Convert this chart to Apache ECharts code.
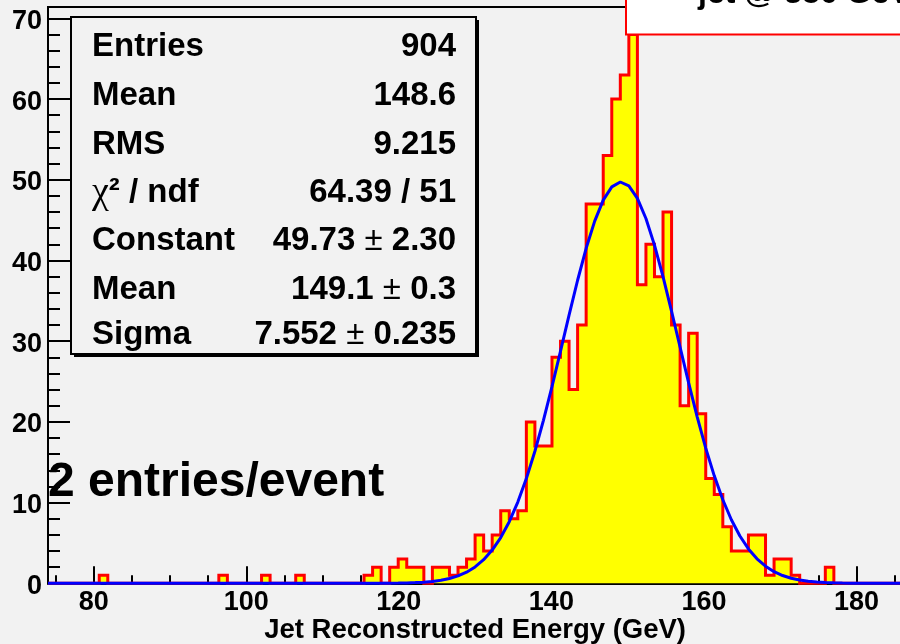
<!DOCTYPE html>
<html>
<head>
<meta charset="utf-8">
<script src="https://cdn.jsdelivr.net/npm/echarts@6/dist/echarts.min.js"></script>
<style>
  html, body { margin: 0; padding: 0; background: #f2f2f2; }
  #chart { width: 900px; height: 644px; }
</style>
</head>
<body>
<div id="chart"></div>
<script>
// Histogram binning: 100 bins from 74 to 186 GeV
const xMin = 74;
const xMax = 186;
const nBins = 100;

// Entries per bin (two entries per event)
const binCounts = [
  0, 0, 0, 0, 0, 0, 1, 0, 0, 0,
  0, 0, 0, 0, 0, 0, 0, 0, 0, 0,
  1, 0, 0, 0, 0, 1, 0, 0, 0, 1,
  0, 0, 0, 0, 0, 0, 0, 1, 2, 0,
  2, 3, 2, 2, 0, 2, 2, 1, 2, 3,
  6, 4, 6, 9, 8, 9, 20, 17, 17, 28,
  30, 24, 32, 47, 47, 53, 60, 63, 68, 37,
  42, 38, 46, 32, 22, 31, 21, 13, 11, 7,
  4, 4, 6, 6, 1, 3, 3, 1, 0, 0,
  0, 2, 0, 0, 0, 0, 0, 0, 0, 0
];

// Gaussian fit result
const fitConstant = 49.73;
const fitMean = 149.1;
const fitSigma = 7.552;
const fitPoints = 100;

// Axis ticks
const yMax = 71.4;
const xMajorTicks = [80, 100, 120, 140, 160, 180];
const xMinorTicks = [75, 85, 90, 95, 105, 110, 115, 125, 130, 135, 145, 150, 155, 165, 170, 175, 185];
const yMajorTicks = [0, 10, 20, 30, 40, 50, 60, 70];
const yMinorTicks = [2, 4, 6, 8, 12, 14, 16, 18, 22, 24, 26, 28, 32, 34, 36, 38, 42, 44, 46, 48, 52, 54, 56, 58, 62, 64, 66, 68];

// Statistics box
const statLabels = ['Entries', 'Mean', 'RMS', 'χ² / ndf', 'Constant', 'Mean', 'Sigma'];
const statValues = ['904', '148.6', '9.215', '64.39 / 51', '49.73 ± 2.30', '149.1 ± 0.3', '7.552 ± 0.235'];

const xTitle = 'Jet Reconstructed Energy (GeV)';
const noteText = '2 entries/event';
const histTitle = 'jet @ 350 GeV';

// ---- build the step contour of the histogram ----
const binWidth = (xMax - xMin) / nBins;
const stepData = [[xMin, 0]];
binCounts.forEach((n, i) => {
  const lo = xMin + i * binWidth;
  const hi = lo + binWidth;
  stepData.push([lo, n], [hi, n]);
});
stepData.push([xMax, 0]);

// ---- sample the fitted gaussian over the axis range ----
const fitData = [];
for (let i = 0; i <= fitPoints; i++) {
  const x = xMin + i * (xMax - xMin) / fitPoints;
  const z = (x - fitMean) / fitSigma;
  fitData.push([x, fitConstant * Math.exp(-0.5 * z * z)]);
}

const SANS = '"Liberation Sans", Arial, Helvetica, sans-serif';
const tickFont = { color: '#000', fontFamily: SANS, fontWeight: 'bold', fontSize: 27 };
const statSize = 33;

// rich-text helpers: Greek letters and ± use a light weight, the rest bold
const rich = {
  b: { fontFamily: SANS, fontWeight: 'bold', fontSize: statSize, fill: '#000', color: '#000' },
  g: { fontFamily: '"Liberation Serif", "DejaVu Serif", serif', fontWeight: 'normal', fontSize: statSize + 5, fill: '#000', color: '#000' },
  pm: { fontFamily: SANS, fontWeight: 'normal', fontSize: statSize, fill: '#000', color: '#000' }
};
function toRich(s) {
  return s.split(/(±|χ)/).filter(p => p.length).map(p => {
    if (p === '±') return '{pm|±}';
    if (p === 'χ') return '{g|χ}';
    return '{b|' + p + '}';
  }).join('');
}

const statRowY = [47, 96, 145, 193, 241, 290, 335];
const statGraphics = [];
statLabels.forEach((lab, i) => {
  statGraphics.push({
    type: 'text', z: 20, x: 92, y: statRowY[i],
    style: { text: toRich(lab), rich: rich, align: 'left', verticalAlign: 'middle', font: 'bold ' + statSize + 'px ' + SANS, fill: '#000' }
  });
  statGraphics.push({
    type: 'text', z: 20, x: 456, y: statRowY[i],
    style: { text: toRich(statValues[i]), rich: rich, align: 'right', verticalAlign: 'middle', font: 'bold ' + statSize + 'px ' + SANS, fill: '#000' }
  });
});

const chart = echarts.init(document.getElementById('chart'), null, { renderer: 'canvas' });

chart.setOption({
  animation: false,
  backgroundColor: '#f2f2f2',
  grid: {
    left: 48, top: 7.1, width: 854.2, height: 576.2,
    show: true, borderColor: '#000', borderWidth: 2, backgroundColor: 'transparent',
    containLabel: false, outerBoundsMode: 'none'
  },
  xAxis: [
    {
      type: 'value', min: xMin, max: xMax, position: 'bottom',
      axisLine: { show: true, onZero: false, lineStyle: { color: '#000', width: 2 } },
      axisTick: { show: true, inside: true, length: 17, customValues: xMajorTicks, lineStyle: { color: '#000', width: 2 } },
      axisLabel: Object.assign({ margin: 6, lineHeight: 27, customValues: xMajorTicks }, tickFont),
      splitLine: { show: false },
      name: xTitle, nameLocation: 'middle', nameGap: 33.5, nameMoveOverlap: false,
      nameTextStyle: { color: '#000', fontFamily: SANS, fontWeight: 'bold', fontSize: 27.5, lineHeight: 28 }
    },
    {
      type: 'value', min: xMin, max: xMax, position: 'bottom',
      axisLine: { show: false },
      axisTick: { show: true, inside: true, length: 8, customValues: xMinorTicks, lineStyle: { color: '#000', width: 2 } },
      axisLabel: { show: false },
      splitLine: { show: false }
    }
  ],
  yAxis: [
    {
      type: 'value', min: 0, max: yMax, position: 'left',
      axisLine: { show: true, onZero: false, lineStyle: { color: '#000', width: 2 } },
      axisTick: { show: true, inside: true, length: 22, customValues: yMajorTicks, lineStyle: { color: '#000', width: 2 } },
      axisLabel: Object.assign({
        margin: 6, customValues: yMajorTicks,
        formatter: v => '{n|' + v + '}',
        rich: { n: Object.assign({ padding: [6, 0, 0, 0], lineHeight: 27 }, tickFont) }
      }, tickFont),
      splitLine: { show: false }
    },
    {
      type: 'value', min: 0, max: yMax, position: 'left',
      axisLine: { show: false },
      axisTick: { show: true, inside: true, length: 12, customValues: yMinorTicks, lineStyle: { color: '#000', width: 2 } },
      axisLabel: { show: false },
      splitLine: { show: false }
    }
  ],
  series: [
    {
      type: 'line', xAxisIndex: 0, yAxisIndex: 0, data: stepData,
      symbol: 'none', clip: false, silent: true, z: 2,
      lineStyle: { color: '#ff0000', width: 3, join: 'miter' },
      areaStyle: { color: '#ffff00', opacity: 1 }
    },
    {
      type: 'line', xAxisIndex: 0, yAxisIndex: 0, data: fitData,
      symbol: 'none', clip: false, silent: true, z: 3,
      lineStyle: { color: '#0000ff', width: 3 }
    }
  ],
  graphic: [
    // statistics box with drop shadow
    { type: 'rect', z: 18, shape: { x: 74, y: 20, width: 405, height: 337 }, style: { fill: '#000' } },
    { type: 'rect', z: 19, shape: { x: 71, y: 17, width: 405, height: 337 }, style: { fill: '#f2f2f2', stroke: '#000', lineWidth: 2 } },
    ...statGraphics,
    // annotation
    { type: 'text', z: 20, x: 48, y: 483, style: { text: noteText, font: 'bold 48px ' + SANS, fill: '#000', align: 'left', verticalAlign: 'middle' } },
    // histogram title box
    { type: 'rect', z: 18, shape: { x: 626, y: -10, width: 300, height: 44.5 }, style: { fill: '#ffffff', stroke: '#ff0000', lineWidth: 2 } },
    { type: 'text', z: 20, x: 698, y: 10, style: { text: histTitle, font: 'bold 32px ' + SANS, fill: '#000', align: 'left', verticalAlign: 'bottom' } }
  ]
});
</script>
</body>
</html>
